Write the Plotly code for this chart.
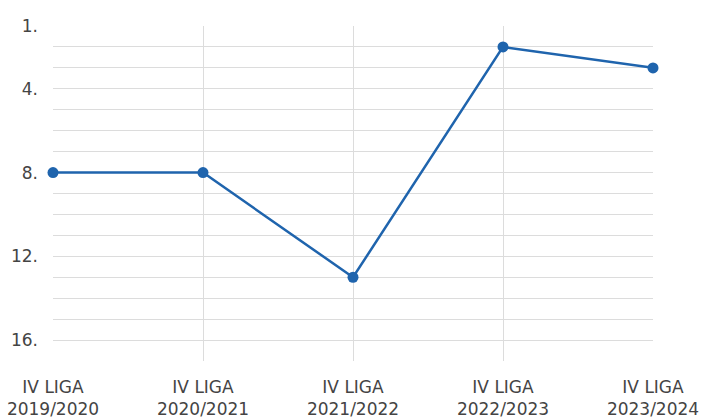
import plotly.graph_objects as go

seasons = ["IV LIGA<br>2019/2020", "IV LIGA<br>2020/2021", "IV LIGA<br>2021/2022",
           "IV LIGA<br>2022/2023", "IV LIGA<br>2023/2024"]
positions = [8, 8, 13, 2, 3]
y_ticks = list(range(1, 18))
y_labels = {1: "1.", 4: "4.", 8: "8.", 12: "12.", 16: "16."}

x_idx = list(range(len(seasons)))

fig = go.Figure()
fig.add_trace(go.Scatter(
    x=x_idx, y=positions, mode="lines+markers",
    line=dict(color="#1f64ad", width=2.5),
    marker=dict(color="#1f64ad", size=11),
    cliponaxis=False,
))

font_family = "DejaVu Sans, sans-serif"
fig.update_layout(
    width=704, height=420,
    margin=dict(l=53, r=51, t=26, b=59),
    paper_bgcolor="white", plot_bgcolor="white",
    showlegend=False,
    font=dict(family=font_family, size=17, color="#444"),
    xaxis=dict(
        range=[0, len(seasons) - 1],
        tickvals=x_idx, ticktext=seasons,
        showgrid=True, gridcolor="#dcdcdc", gridwidth=1.3,
        zeroline=False, showline=False, ticks="",
        automargin=False,
        ticklabelstandoff=14,
        tickfont=dict(size=17, color="#444"),
    ),
    yaxis=dict(
        range=[17, 1],
        tickvals=y_ticks,
        ticktext=[y_labels.get(v, "") for v in y_ticks],
        showgrid=True, gridcolor="#dcdcdc", gridwidth=1.3,
        zeroline=False, showline=False, ticks="",
        automargin=False,
        ticklabelstandoff=14,
        tickfont=dict(size=17, color="#444"),
    ),
)

fig.write_html(
    "out.html",
    config={"displayModeBar": False},
    post_script="document.body.style.margin='0';document.body.style.padding='0';",
)
